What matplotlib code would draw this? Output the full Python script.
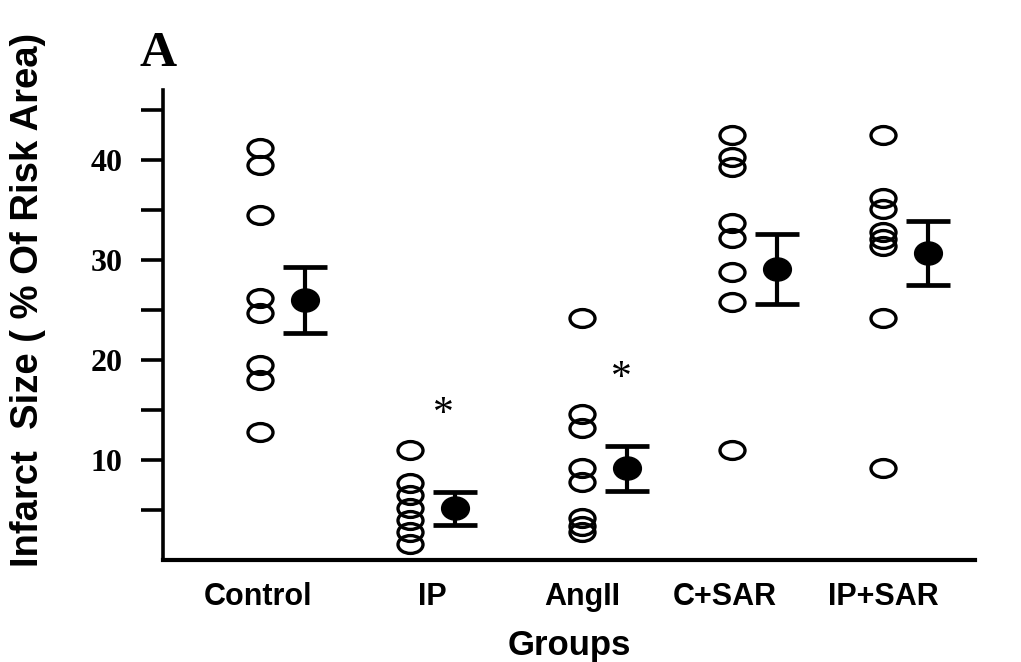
import numpy as np
import matplotlib
matplotlib.use("Agg")
from matplotlib import pyplot as plt
from matplotlib.path import Path

groups = ["Control", "IP", "AngII", "C+SAR", "IP+SAR"]

control = [41.2, 39.5, 34.5, 26.2, 24.7, 19.5, 18.0, 12.8]
ip = [11.0, 7.7, 6.5, 5.2, 4.0, 2.8, 1.6]
angii = [24.2, 14.6, 13.2, 9.2, 7.8, 4.2, 3.4, 2.8]
c_sar = [42.5, 40.3, 39.3, 33.7, 32.2, 28.8, 25.8, 11.0]
ip_sar = [42.5, 36.2, 35.1, 32.8, 32.1, 31.4, 24.2, 9.2]

means = [26.0, 5.2, 9.2, 29.1, 30.7]
sems = [3.3, 1.65, 2.25, 3.5, 3.2]

# significance markers (group index, height)
star_groups = [1, 2]
star_y = [14.5, 18.1]

# layout (not data)
xpos = np.array([1.0, 2.0, 3.147, 4.147, 5.153])
label_pos = [0.987, 2.147, 3.147, 4.1, 5.153]
mean_shift = 0.3
star_shift = [0.22, 0.26]

# ellipse markers, the source scan is stretched sideways
circ = Path.unit_circle()
open_mk = Path(circ.vertices * [1.4, 1.0], circ.codes)
fill_mk = Path(circ.vertices * [1.2, 1.0], circ.codes)

fig = plt.figure(figsize=(10.21, 6.62), dpi=100)
ax = fig.add_axes([0.1597, 0.154, 0.7953, 0.710])

for x, vals in zip(xpos, [control, ip, angii, c_sar, ip_sar]):
    ax.plot([x] * len(vals), vals, linestyle="none", marker=open_mk,
            markersize=18, markerfacecolor="none", markeredgecolor="black",
            markeredgewidth=2.4, clip_on=False)

ax.errorbar(xpos + mean_shift, means, yerr=sems, fmt="none", ecolor="black",
            elinewidth=3.0, capsize=16, capthick=3.4)
ax.plot(xpos + mean_shift, means, linestyle="none", marker=fill_mk,
        markersize=20, color="black")

for g, y, dx in zip(star_groups, star_y, star_shift):
    ax.text(xpos[g] + dx, y, "*", ha="center", va="center", fontsize=30,
            family="Liberation Serif")

ax.set_xlim(0.353, 5.767)
ax.set_ylim(0, 47)
ax.spines["top"].set_visible(False)
ax.spines["right"].set_visible(False)
ax.spines["left"].set_linewidth(2.6)
ax.spines["bottom"].set_linewidth(3.0)

ax.set_yticks([10, 20, 30, 40])
ax.set_yticks([5, 15, 25, 35, 45], minor=True)
ax.tick_params(axis="y", which="both", direction="out", length=16, width=2.6, pad=13)
ax.set_yticklabels(["10", "20", "30", "40"], family="Liberation Serif",
                   fontweight="bold", fontsize=23)

ax.set_xticks(label_pos)
ax.set_xticklabels(groups, family="Liberation Sans", fontweight="bold", fontsize=22)
ax.tick_params(axis="x", length=0, pad=16)

ax.set_xlabel("Groups", family="Liberation Sans", fontweight="bold", fontsize=25, labelpad=12)
fig.text(0.027, 0.547, "Infarct  Size ( % Of Risk Area)", rotation=90, ha="center",
         va="center", family="Liberation Sans", fontweight="bold", fontsize=27.5)

fig.text(0.137, 0.9, "A", family="Liberation Serif", fontweight="bold", fontsize=37)

fig.savefig("out.png", dpi=100)
